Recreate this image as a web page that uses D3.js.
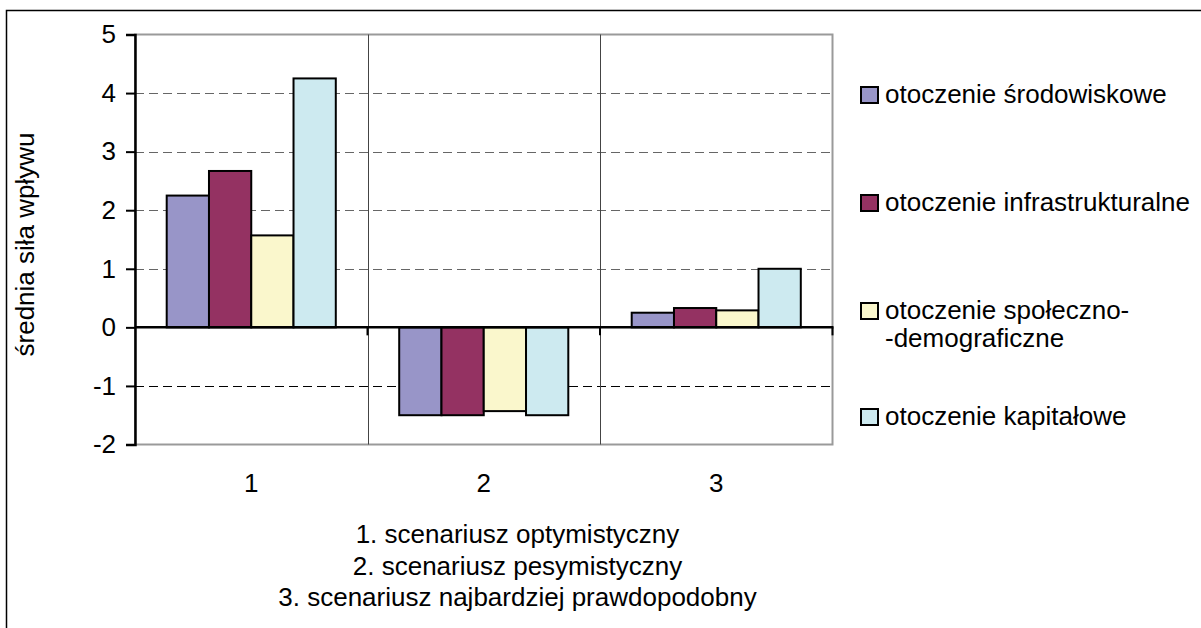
<!DOCTYPE html>
<html>
<head>
<meta charset="utf-8">
<script src="https://cdn.jsdelivr.net/npm/d3@7"></script>
<style>
  html, body { margin: 0; padding: 0; background: #fff; }
  svg { display: block; }
  text { font-family: "Liberation Sans", Arial, sans-serif; fill: #000; }
</style>
</head>
<body>
<svg id="chart" width="1201" height="628"></svg>
<script>
// Scenarios (categories) and the four environment series
const categories = ["1", "2", "3"];
const seriesNames = [
  "otoczenie środowiskowe",
  "otoczenie infrastrukturalne",
  "otoczenie społeczno-\n-demograficzne",
  "otoczenie kapitałowe"
];
const srodowiskowe      = [2.25, -1.5, 0.25];
const infrastrukturalne = [2.67, -1.5, 0.33];
const spoleczno         = [1.57, -1.43, 0.29];
const kapitalowe        = [4.25, -1.5, 1.0];
const yTicks = [-2, -1, 0, 1, 2, 3, 4, 5];
const yTitle = "średnia siła wpływu";
const notes = [
  "1. scenariusz optymistyczny",
  "2. scenariusz pesymistyczny",
  "3. scenariusz najbardziej prawdopodobny"
];
const colors = ["#9895c8", "#943262", "#faf7cc", "#cdeaf0"];

const values = [srodowiskowe, infrastrukturalne, spoleczno, kapitalowe];
const FONT = 26;

const svg = d3.select("#chart");

// outer frame (left and top edges)
svg.append("path")
  .attr("d", "M6.5,628 V10.5 H1201")
  .attr("fill", "none").attr("stroke", "#000").attr("stroke-width", 1.5);

const plot = { left: 135, right: 832.5, top: 34.5, bottom: 444.5 };

const x0 = d3.scaleBand().domain(categories).range([plot.left, plot.right]).padding(0);
// bar width: four bars plus 150% gap per category
const barW = x0.bandwidth() / 5.5;
const x1 = d3.scaleBand().domain(d3.range(4)).range([0.75 * barW, 4.75 * barW]).padding(0);
const y = d3.scaleLinear().domain([-2, 5]).range([plot.bottom, plot.top]);

// plot area border
svg.append("rect")
  .attr("x", plot.left).attr("y", plot.top)
  .attr("width", plot.right - plot.left).attr("height", plot.bottom - plot.top)
  .attr("fill", "#fff").attr("stroke", "#9a9a9a").attr("stroke-width", 2);

// horizontal dashed gridlines
svg.append("g").selectAll("line")
  .data(yTicks.filter(t => t !== 0 && t !== -2 && t !== 5))
  .join("line")
  .attr("x1", plot.left).attr("x2", plot.right)
  .attr("y1", d => Math.round(y(d)) + 0.5).attr("y2", d => Math.round(y(d)) + 0.5)
  .attr("stroke", d => d < 0 ? "#000" : "#666")
  .attr("stroke-width", 1)
  .attr("stroke-dasharray", "9,5");

// vertical category separators
svg.append("g").selectAll("line")
  .data(categories.slice(1))
  .join("line")
  .attr("x1", d => Math.round(x0(d)) + 0.5).attr("x2", d => Math.round(x0(d)) + 0.5)
  .attr("y1", plot.top).attr("y2", plot.bottom)
  .attr("stroke", "#444").attr("stroke-width", 1);

// bars
const groups = svg.append("g").selectAll("g")
  .data(categories)
  .join("g")
  .attr("transform", d => `translate(${x0(d)},0)`);

groups.selectAll("rect")
  .data((c, ci) => values.map((s, si) => ({ si, v: s[ci] })))
  .join("rect")
  .attr("x", d => x1(d.si))
  .attr("width", x1.bandwidth())
  .attr("y", d => y(Math.max(0, d.v)))
  .attr("height", d => Math.abs(y(d.v) - y(0)))
  .attr("fill", d => colors[d.si])
  .attr("stroke", "#000")
  .attr("stroke-width", 2);

// zero axis with category ticks
const xAxis = svg.append("g").attr("transform", `translate(0,${y(0)})`);
xAxis.append("line")
  .attr("x1", plot.left).attr("x2", plot.right + 1)
  .attr("stroke", "#000").attr("stroke-width", 2.5);
xAxis.selectAll("line.tick")
  .data([...categories.slice(1).map(c => x0(c)), plot.right])
  .join("line").attr("class", "tick")
  .attr("x1", d => d).attr("x2", d => d)
  .attr("y1", 0).attr("y2", 8)
  .attr("stroke", "#000").attr("stroke-width", 2);

// y axis
const yAxis = svg.append("g")
  .attr("transform", `translate(${plot.left},0)`)
  .call(d3.axisLeft(y).tickValues(yTicks).tickSize(9).tickPadding(10).tickFormat(d => String(d)));
yAxis.select(".domain").attr("stroke", "#000").attr("stroke-width", 2.5);
yAxis.selectAll(".tick line").attr("stroke", "#000").attr("stroke-width", 2);
yAxis.selectAll(".tick text")
  .attr("font-family", "Liberation Sans, Arial, sans-serif")
  .attr("font-size", FONT).attr("fill", "#000");

// y axis title
svg.append("text")
  .attr("transform", `translate(34,${(plot.top + plot.bottom) / 2 + 5}) rotate(-90)`)
  .attr("text-anchor", "middle")
  .attr("font-size", FONT)
  .text(yTitle);

// category labels
svg.append("g").selectAll("text")
  .data(categories)
  .join("text")
  .attr("x", d => x0(d) + x0.bandwidth() / 2)
  .attr("y", 492)
  .attr("text-anchor", "middle")
  .attr("font-size", FONT)
  .text(d => d);

// scenario notes
svg.append("g").selectAll("text")
  .data(notes)
  .join("text")
  .attr("x", 517.5)
  .attr("y", (d, i) => 543 + i * 31.5)
  .attr("text-anchor", "middle")
  .attr("font-size", FONT)
  .text(d => d);

// legend
const legendY = [103, 211, 319, 425];
const legend = svg.append("g").selectAll("g")
  .data(seriesNames)
  .join("g")
  .attr("transform", (d, i) => `translate(861,${legendY[i]})`);
legend.append("rect")
  .attr("x", 0).attr("y", -16)
  .attr("width", 17).attr("height", 16)
  .attr("fill", (d, i) => colors[i])
  .attr("stroke", "#000").attr("stroke-width", 2);
legend.append("text")
  .attr("font-size", FONT)
  .each(function (d) {
    const lines = d.split("\n");
    d3.select(this).selectAll("tspan")
      .data(lines)
      .join("tspan")
      .attr("x", 24)
      .attr("y", (l, j) => j * 28)
      .text(l => l);
  });
</script>
</body>
</html>
